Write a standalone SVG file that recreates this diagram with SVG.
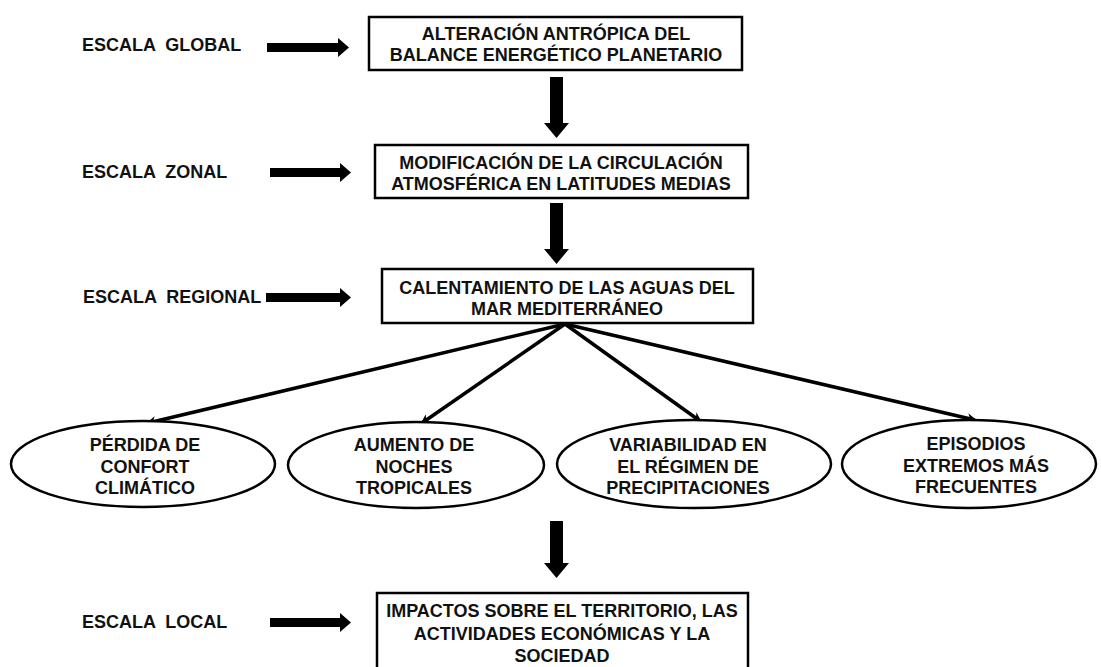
<svg xmlns="http://www.w3.org/2000/svg" width="1101" height="667" viewBox="0 0 1101 667">
<defs>
<marker id="ah" markerWidth="10" markerHeight="10" refX="8" refY="5" orient="auto" markerUnits="userSpaceOnUse">
<path d="M0,0 L10,5 L0,10 L3,5 Z" fill="#000"/>
</marker>
<style>
text{font-family:"Liberation Sans",Arial,sans-serif;font-weight:bold;fill:#111;}
.t{font-size:18px;text-anchor:middle;}
.lab{font-size:18px;white-space:pre;}
.box{fill:#fff;stroke:#000;stroke-width:2.5;}
.ell{fill:#fff;stroke:#000;stroke-width:2.5;}
.con{stroke:#000;stroke-width:3.5;fill:none;marker-end:url(#ah);}
.fat{fill:#000;}
</style>
</defs>
<rect width="1101" height="667" fill="#fff"/>
<g id="labels">
<text class="lab" x="82" y="51" xml:space="preserve">ESCALA  GLOBAL</text>
<text class="lab" x="82" y="178" xml:space="preserve">ESCALA  ZONAL</text>
<text class="lab" x="83" y="303" xml:space="preserve">ESCALA  REGIONAL</text>
<text class="lab" x="82" y="628" xml:space="preserve">ESCALA  LOCAL</text>
</g>
<g id="connectors">
<path class="fat" d="M267,43 H338 V38 L349,47.5 L338,57 V52 H267 Z"/>
<path class="fat" d="M270,168 H340 V163 L351,172.5 L340,182 V177 H270 Z"/>
<path class="fat" d="M266,293 H340 V288 L351,297.5 L340,307 V302 H266 Z"/>
<path class="fat" d="M270,618 H340 V613 L351,622.5 L340,632 V627 H270 Z"/>
<path class="fat" d="M550,77 H563 V123 H569 L556.5,138 L544,123 H550 Z"/>
<path class="fat" d="M550,203 H563 V249 H569 L556.5,264 L544,249 H550 Z"/>
<path class="fat" d="M550,521 H563 V563 H569 L556.5,578 L544,563 H550 Z"/>
<line class="con" x1="565" y1="324" x2="148" y2="423"/>
<line class="con" x1="565" y1="324" x2="422" y2="423"/>
<line class="con" x1="565" y1="324" x2="700" y2="421"/>
<line class="con" x1="565" y1="324" x2="975" y2="420"/>
</g>
<g id="n1">
<rect class="box" x="369" y="17" width="373" height="53"/>
<text class="t" x="556" y="40">ALTERACIÓN ANTRÓPICA DEL</text>
<text class="t" x="556" y="61">BALANCE ENERGÉTICO PLANETARIO</text>
</g>
<g id="n2">
<rect class="box" x="375" y="145" width="373" height="53"/>
<text class="t" x="561" y="169">MODIFICACIÓN DE LA CIRCULACIÓN</text>
<text class="t" x="561" y="190">ATMOSFÉRICA EN LATITUDES MEDIAS</text>
</g>
<g id="n3">
<rect class="box" x="382" y="269" width="371" height="54"/>
<text class="t" x="567" y="294">CALENTAMIENTO DE LAS AGUAS DEL</text>
<text class="t" x="567" y="315">MAR MEDITERRÁNEO</text>
</g>
<g id="e1">
<ellipse class="ell" cx="143" cy="464" rx="132" ry="43"/>
<text class="t" x="145" y="451">PÉRDIDA DE</text>
<text class="t" x="145" y="473">CONFORT</text>
<text class="t" x="145" y="494">CLIMÁTICO</text>
</g>
<g id="e2">
<ellipse class="ell" cx="416" cy="465" rx="128" ry="43"/>
<text class="t" x="414" y="451">AUMENTO DE</text>
<text class="t" x="414" y="473">NOCHES</text>
<text class="t" x="414" y="494">TROPICALES</text>
</g>
<g id="e3">
<ellipse class="ell" cx="694" cy="464" rx="137" ry="44"/>
<text class="t" x="688" y="451">VARIABILIDAD EN</text>
<text class="t" x="688" y="473">EL RÉGIMEN DE</text>
<text class="t" x="688" y="494">PRECIPITACIONES</text>
</g>
<g id="e4">
<ellipse class="ell" cx="969" cy="464" rx="127" ry="44"/>
<text class="t" x="976" y="450">EPISODIOS</text>
<text class="t" x="976" y="472">EXTREMOS MÁS</text>
<text class="t" x="976" y="493">FRECUENTES</text>
</g>
<g id="n4">
<rect class="box" x="377" y="593" width="371" height="80"/>
<text class="t" x="562" y="617">IMPACTOS SOBRE EL TERRITORIO, LAS</text>
<text class="t" x="562" y="640">ACTIVIDADES ECONÓMICAS Y LA</text>
<text class="t" x="562" y="662">SOCIEDAD</text>
</g>
</svg>
